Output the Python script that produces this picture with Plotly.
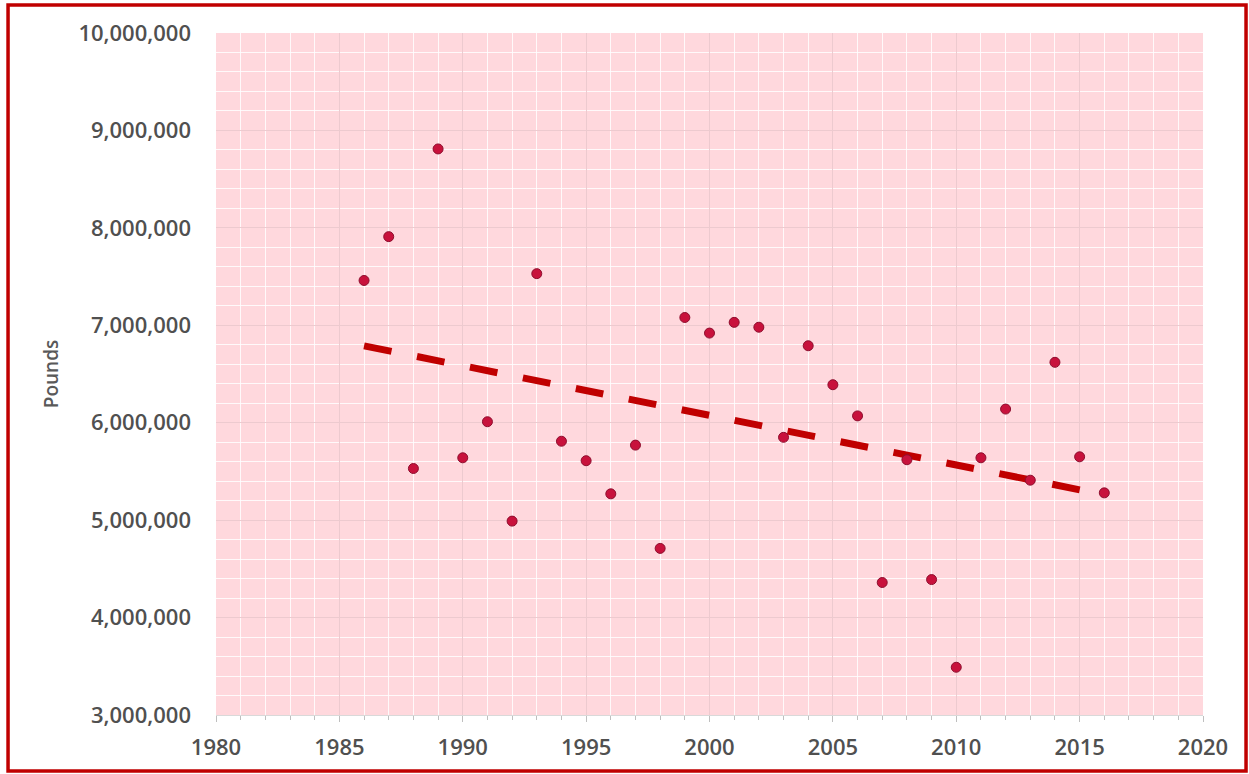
import numpy as np
import plotly.graph_objects as go

years = list(range(1986, 2017))
pounds = [7460000, 7910000, 5530000, 8810000, 5640000, 6010000, 4990000, 7530000,
          5810000, 5610000, 5270000, 5770000, 4710000, 7080000, 6920000, 7030000,
          6980000, 5850000, 6790000, 6390000, 6070000, 4360000, 5620000, 4390000,
          3490000, 5640000, 6140000, 5410000, 6620000, 5650000, 5280000]

slope, intercept = np.polyfit(years, pounds, 1)
trend_x = [years[0], years[-1]]
trend_y = [slope * x + intercept for x in trend_x]

fig = go.Figure()
fig.add_trace(go.Scatter(
    x=trend_x, y=trend_y, mode="lines",
    line=dict(color="#C00000", width=7, dash="28px,26px"),
    hoverinfo="skip", showlegend=False))
fig.add_trace(go.Scatter(
    x=years, y=pounds, mode="markers",
    marker=dict(color="#C8123C", size=10, line=dict(color="#8E0E2E", width=1)),
    showlegend=False))

FAM = "Open Sans, DejaVu Sans, sans-serif"
labfont = dict(family=FAM, size=22, color="#505050", weight=600)

fig.update_layout(
    width=1249, height=774,
    paper_bgcolor="white", plot_bgcolor="#FFD8DD",
    margin=dict(l=216, r=46, t=33, b=59),
    font=dict(family=FAM, color="#595959"),
    shapes=[dict(type="rect", xref="paper", yref="paper",
                 x0=-0.2107, x1=1.0436, y0=-0.0821, y1=1.0411,
                 line=dict(color="#C00000", width=3.5), layer="above")],
)
fig.update_xaxes(
    range=[1980, 2020], dtick=5, tick0=1980,
    showgrid=True, gridcolor="#EDCACF", gridwidth=1,
    minor=dict(dtick=1, showgrid=True, gridcolor="rgba(255,255,255,0.85)", gridwidth=1,
               ticks="outside", ticklen=4, tickcolor="#BFBFBF"),
    ticks="outside", ticklen=6, tickcolor="#BFBFBF",
    showline=True, linecolor="#D9D9D9", linewidth=1,
    zeroline=False,
    tickfont=labfont,
    ticklabelstandoff=7,
)
fig.update_yaxes(
    range=[3000000, 10000000], dtick=1000000,
    tickformat=",d",
    showgrid=True, gridcolor="#EDCACF", gridwidth=1,
    minor=dict(dtick=200000, showgrid=True, gridcolor="rgba(255,255,255,0.85)", gridwidth=1),
    ticks="", showline=False, zeroline=False,
    tickfont=labfont,
    ticklabelstandoff=24,
    title=dict(text="Pounds", font=dict(family=FAM, size=19, color="#595959", weight=600),
               standoff=14),
)

fig.write_html("out.html", config={"displayModeBar": False},
               post_script="document.body.style.margin='0';")
